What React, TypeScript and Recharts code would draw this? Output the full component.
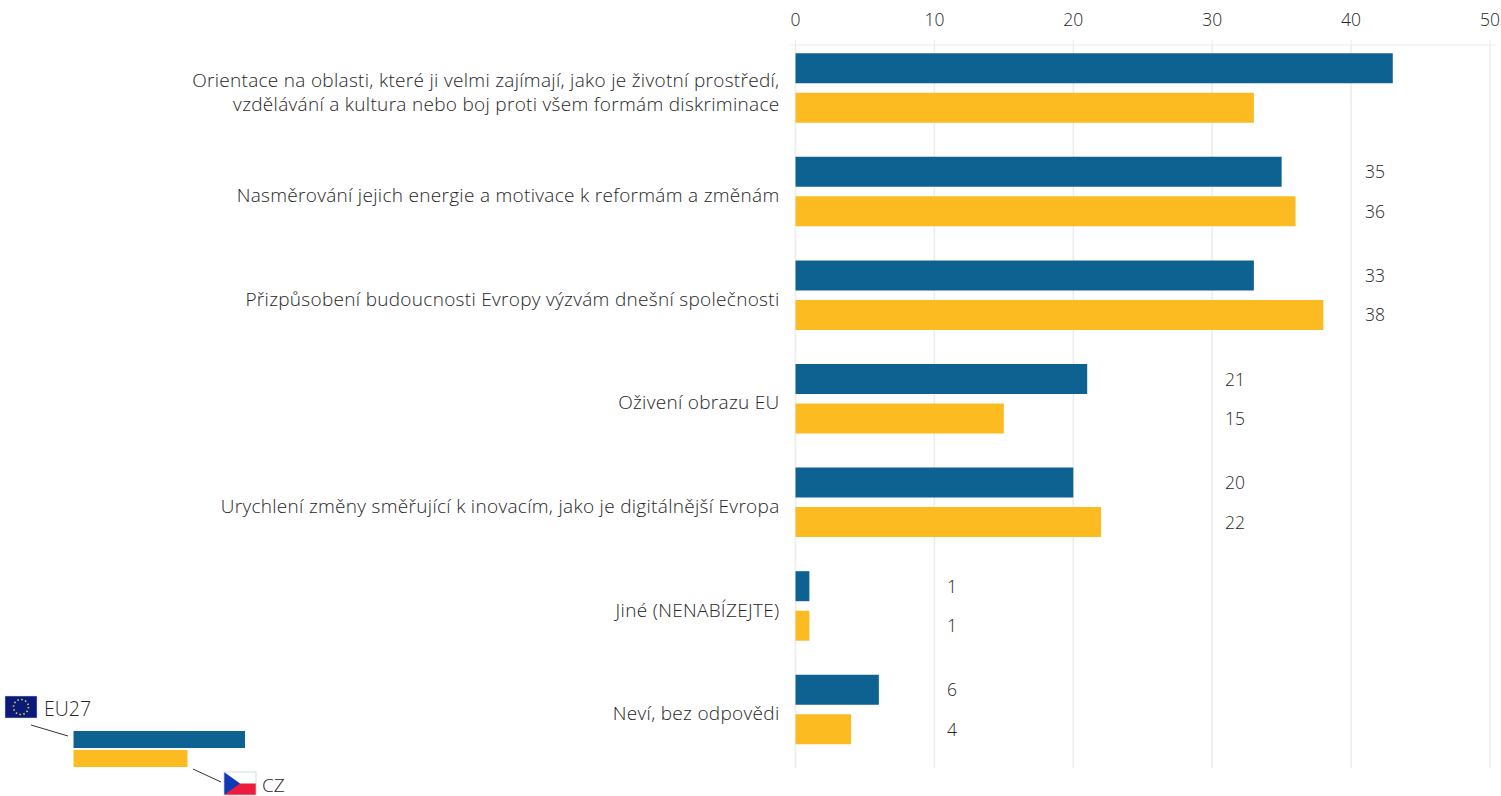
import { Bar, BarChart, CartesianGrid, LabelList, XAxis, YAxis } from 'recharts';

const categories = [
  'Orientace na oblasti, které ji velmi zajímají, jako je životní prostředí,\nvzdělávání a kultura nebo boj proti všem formám diskriminace',
  'Nasměrování jejich energie a motivace k reformám a změnám',
  'Přizpůsobení budoucnosti Evropy výzvám dnešní společnosti',
  'Oživení obrazu EU',
  'Urychlení změny směřující k inovacím, jako je digitálnější Evropa',
  'Jiné (NENABÍZEJTE)',
  'Neví, bez odpovědi',
];
const eu27 = [43, 35, 33, 21, 20, 1, 6];
const cz = [33, 36, 38, 15, 22, 1, 4];
const xTicks = [0, 10, 20, 30, 40, 50];

const BLUE = '#0d6292';
const YELLOW = '#fcbb21';
const GRID = '#ececec';
const TEXT = '#262626';
const FONT = '"Open Sans", sans-serif';

const data = categories.map((name, i) => ({ name, eu27: eu27[i], cz: cz[i] }));

function CategoryTick({ x, y, payload }: any) {
  const lines: string[] = payload.value.split('\n');
  const start = lines.length > 1 ? -8 : 3.5;
  return (
    <text
      x={x}
      y={y + start}
      textAnchor="end"
      dominantBaseline="central"
      fontSize={19}
      letterSpacing={0.3}
      fontWeight={300}
      fill={TEXT}
      fontFamily={FONT}
    >
      {lines.map((line, i) => (
        <tspan key={line} x={x} dy={i === 0 ? 0 : 24}>
          {line}
        </tspan>
      ))}
    </text>
  );
}

// the original sets its numbers in loose columns and leaves the first row unlabelled
function columnOffset(value: number): number {
  if (value < 10) return 151.5;
  if (value < 30) return 429.5;
  return 569.5;
}

function ValueLabel({ x, y, height, value, index }: any) {
  if (index === 0) return null;
  return (
    <text
      x={x + columnOffset(value)}
      y={y + height / 2 - 0.5}
      dominantBaseline="central"
      fontSize={17.5}
      fontWeight={300}
      fill={TEXT}
      fontFamily={FONT}
    >
      {value}
    </text>
  );
}

function LegendKey() {
  return (
    <svg width={300} height={116} style={{ position: 'absolute', left: 0, top: 680 }}>
      <rect x={5} y={16} width={32} height={22} fill="#0a1a78" stroke="#d5d5e5" strokeWidth={0.5} />
      <circle cx={21} cy={27} r={7.5} fill="none" stroke="#e6cf3a" strokeWidth={1.6} strokeDasharray="1.5 2.43" />
      <text x={44} y={28} dominantBaseline="central" fontSize={19.5} fontWeight={300} fill={TEXT} fontFamily={FONT}>
        EU27
      </text>
      <line x1={31} y1={45} x2={68} y2={56} stroke="#333" />
      <rect x={73.5} y={51} width={171.5} height={17} fill={BLUE} />
      <rect x={73.5} y={70} width={114} height={17} fill={YELLOW} />
      <line x1={193} y1={89} x2={221} y2={102} stroke="#333" />
      <rect x={224} y={92} width={32} height={11.5} fill="#ffffff" />
      <rect x={224} y={103.5} width={32} height={11.5} fill="#ee1c3c" />
      <polygon points="224,92 240,103.5 224,115" fill="#1038b8" />
      <rect x={224} y={92} width={32} height={23} fill="none" stroke="#d0c8c8" strokeWidth={0.7} />
      <text x={262} y={104.5} dominantBaseline="central" fontSize={19} fontWeight={300} fill={TEXT} fontFamily={FONT}>
        CZ
      </text>
    </svg>
  );
}

export default function App() {
  return (
    <div style={{ position: 'absolute', left: 0, top: 0, width: 1501, height: 796, background: '#fff' }}>
      <BarChart
        width={1501}
        height={796}
        data={data}
        layout="vertical"
        margin={{ top: 0, right: 4, bottom: 28, left: 0 }}
        barSize={30}
        barGap={9.5}
      >
        <CartesianGrid horizontal={false} syncWithTicks stroke={GRID} strokeWidth={1.5} />
        <XAxis
          type="number"
          orientation="top"
          domain={[0, 50]}
          ticks={xTicks}
          interval={0}
          height={45}
          padding={{ left: 6, right: 7 }}
          stroke={GRID}
          tickSize={5}
          tickMargin={14}
          tick={{ fontSize: 17.5, fontWeight: 300, fill: TEXT, fontFamily: FONT }}
        />
        <YAxis
          type="category"
          dataKey="name"
          width={789.5}
          interval={0}
          axisLine={false}
          tickLine={false}
          tickMargin={4}
          padding={{ top: -8.8, bottom: 6.6 }}
          tick={<CategoryTick />}
        />
        <Bar dataKey="eu27" fill={BLUE} isAnimationActive={false}>
          <LabelList dataKey="eu27" content={<ValueLabel />} />
        </Bar>
        <Bar dataKey="cz" fill={YELLOW} isAnimationActive={false}>
          <LabelList dataKey="cz" content={<ValueLabel />} />
        </Bar>
      </BarChart>
      <LegendKey />
    </div>
  );
}
